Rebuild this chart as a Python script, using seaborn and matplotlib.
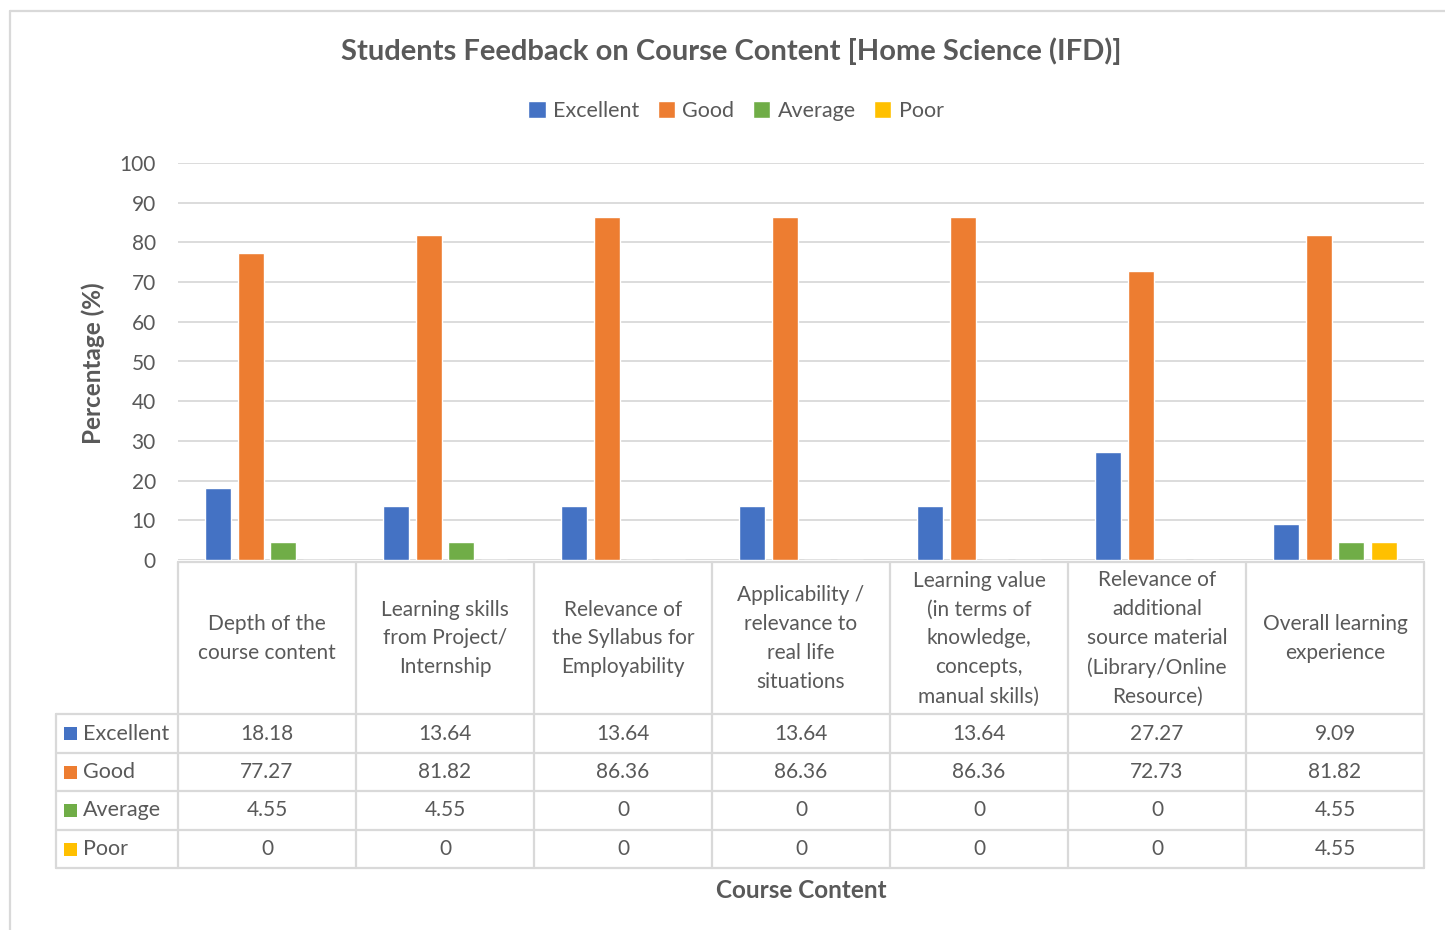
import matplotlib
matplotlib.use("Agg")
import matplotlib.pyplot as plt
import matplotlib.transforms as mtransforms
from matplotlib.lines import Line2D
from matplotlib.patches import Rectangle
import seaborn as sns
import pandas as pd

# ---------------- data ----------------
categories = [
    "Depth of the\ncourse content",
    "Learning skills\nfrom Project/\nInternship",
    "Relevance of\nthe Syllabus for\nEmployability",
    "Applicability /\nrelevance to\nreal life\nsituations",
    "Learning value\n(in terms of\nknowledge,\nconcepts,\nmanual skills)",
    "Relevance of\nadditional\nsource material\n(Library/Online\nResource)",
    "Overall learning\nexperience",
]
ratings = ["Excellent", "Good", "Average", "Poor"]
excellent = [18.18, 13.64, 13.64, 13.64, 13.64, 27.27, 9.09]
good = [77.27, 81.82, 86.36, 86.36, 86.36, 72.73, 81.82]
average = [4.55, 4.55, 0, 0, 0, 0, 4.55]
poor = [0, 0, 0, 0, 0, 0, 4.55]
series = {"Excellent": excellent, "Good": good, "Average": average, "Poor": poor}
yticks = list(range(0, 101, 10))

colors = {"Excellent": "#4472C4", "Good": "#ED7D31", "Average": "#70AD47", "Poor": "#FFC000"}
TXT = "#595959"
GRID = "#D9D9D9"

rows = []
for r in ratings:
    for c, v in zip(categories, series[r]):
        rows.append({"Category": c, "Rating": r, "Value": v})
df = pd.DataFrame(rows)

# ---------------- figure ----------------
sns.set_theme(style="white")
plt.rcParams["font.family"] = ["Lato", "DejaVu Sans"]

W, H = 1445, 930
fig = plt.figure(figsize=(W / 100, H / 100), dpi=100)

def fx(x):
    return x / W

def fy(y):
    return 1 - y / H

ax_l, ax_r, ax_t, ax_b = 178, 1424, 163, 560
ax = fig.add_axes([fx(ax_l), fy(ax_b), fx(ax_r) - fx(ax_l), fy(ax_t) - fy(ax_b)])

sns.barplot(data=df, x="Category", y="Value", hue="Rating", hue_order=ratings,
            palette=colors, width=0.73, gap=0.2, saturation=1, ax=ax,
            legend=True, errorbar=None)

ax.set_xlim(-0.5, len(categories) - 0.5)
ax.set_ylim(0, 100)
ax.set_yticks(yticks)
ax.set_yticklabels([str(t) for t in yticks], fontsize=15, color=TXT)
ax.tick_params(axis="y", length=0, pad=16)
ax.set_xticks([])
ax.set_xlabel("")
ax.set_ylabel("")
for s in ax.spines.values():
    s.set_visible(False)
ax.yaxis.grid(True, color=GRID, linewidth=1.3)
ax.set_axisbelow(True)

# legend
handles, labels = ax.get_legend_handles_labels()
ax.get_legend().remove()
fig.legend(handles, labels, loc="center", bbox_to_anchor=(fx(736), fy(111)),
           ncol=4, frameon=False, fontsize=15.5, labelcolor=TXT,
           handlelength=0.8, handleheight=0.8, handletextpad=0.35,
           columnspacing=0.85)

# title & axis labels
fig.text(fx(731), fy(51), "Students Feedback on Course Content [Home Science (IFD)]",
         ha="center", va="center", fontsize=21, fontweight="bold", color=TXT)
fig.text(fx(93), fy(363), "Percentage (%)", rotation=90, ha="center", va="center",
         fontsize=17.5, fontweight="bold", color=TXT)
fig.text(fx(801), fy(890), "Course Content", ha="center", va="center",
         fontsize=17.5, fontweight="bold", color=TXT)

# ---------------- data table ----------------
tr = mtransforms.blended_transform_factory(ax.transData, fig.transFigure)
n = len(categories)
left_col = -0.5 - (ax_l - 56) / ((ax_r - ax_l) / n)
hdr_top, hdr_bot = 562, 714
row_lines = [714, 753, 791, 830, 868]

def hline(x0, x1, y):
    fig.add_artist(Line2D([x0, x1], [fy(y), fy(y)], transform=tr, color=GRID,
                          lw=1.6, clip_on=False))

def vline(x, y0, y1):
    fig.add_artist(Line2D([x, x], [fy(y0), fy(y1)], transform=tr, color=GRID,
                          lw=1.6, clip_on=False))

hline(-0.5, n - 0.5, hdr_top)
for y in row_lines:
    hline(left_col, n - 0.5, y)
for i in range(n + 1):
    vline(i - 0.5, hdr_top, row_lines[-1])
vline(left_col, row_lines[0], row_lines[-1])

for i, c in enumerate(categories):
    fig.text(i, fy((hdr_top + hdr_bot) / 2 + 0.5), c, transform=tr, ha="center",
             va="center", fontsize=15, color=TXT, linespacing=1.56)

def fmt(v):
    return "0" if v == 0 else f"{v:.2f}"

for k, r in enumerate(ratings):
    yc = (row_lines[k] + row_lines[k + 1]) / 2
    fig.add_artist(Rectangle((fx(64), fy(yc + 6.5)), fx(13), fy(0) - fy(13),
                             transform=fig.transFigure, color=colors[r], lw=0))
    fig.text(fx(83), fy(yc), r, ha="left", va="center", fontsize=15.5, color=TXT)
    for i, v in enumerate(series[r]):
        fig.text(i, fy(yc), fmt(v), transform=tr, ha="center", va="center",
                 fontsize=15, color=TXT)

# chart border
fig.add_artist(Line2D([fx(10), fx(10)], [fy(11), 0], transform=fig.transFigure,
                      color=GRID, lw=1.6))
fig.add_artist(Line2D([fx(10), 1], [fy(11), fy(11)], transform=fig.transFigure,
                      color=GRID, lw=1.6))

fig.savefig("out.png", dpi=100)
